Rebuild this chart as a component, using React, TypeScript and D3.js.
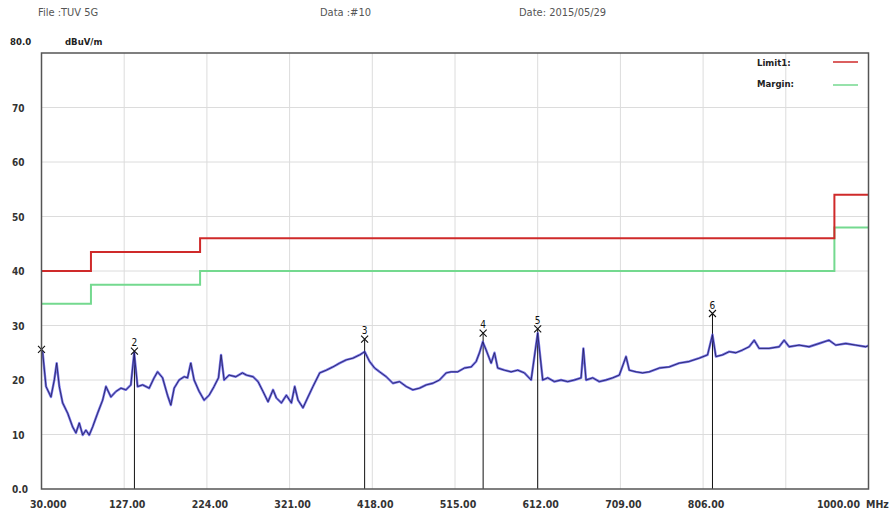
import React from 'react';
import * as d3 from 'd3';

// trace (MHz, dBuV/m)
const traceFreq = [30, 31.4, 35.3, 41.1, 45.0, 47.8, 50.9, 54.8, 60.7, 66.5, 70.4, 74.3, 78.3, 82.1, 86.0, 90.0, 95.8, 101.7, 105.6, 111.4, 117.3, 123.1, 129.0, 134.8, 138.7, 142.7, 148.6, 156.3, 162.1, 166.1, 172.0, 177.8, 181.7, 185.6, 191.4, 197.3, 201.3, 205.1, 209.0, 214.9, 220.7, 226.6, 232.4, 237.6, 240.6, 244.2, 250.0, 257.9, 265.7,
  270.4, 278.1, 284.0, 289.8, 295.7, 301.6, 305.5, 311.4, 317.2, 323.1, 327.0, 330.9, 336.7, 342.6, 348.4, 356.3, 364.1, 371.8, 379.7, 387.5, 395.3, 403.1, 409.0, 414.8, 420.7, 426.5, 434.4, 442.1, 450.0, 457.8, 465.6, 473.4, 481.3, 489.0, 496.8, 504.7,
  510.5, 518.3, 526.1, 534.0, 539.8, 543.7, 547.6, 551.5, 557.4, 561.3, 565.1, 573.0, 580.8, 588.6, 596.4, 604.3, 612.0, 617.9, 623.7, 631.6, 639.4, 647.2, 655.0, 662.9, 665.6, 668.7, 676.5, 684.3, 692.1, 699.9, 707.7, 715.6, 719.4, 727.3, 735.0, 742.8,
  754.6, 766.3, 778.0, 789.7, 801.4, 811.2, 817.0, 821.0, 828.7, 836.6, 844.4, 852.2, 860.0, 865.9, 871.7, 883.4, 895.2, 901.0, 906.9, 918.6, 930.3, 942.0, 953.7, 961.6, 973.3, 985.0, 996.8, 1000];
const traceLevel = [25.5, 25.0, 18.8, 16.9, 20.0, 23.1, 18.8, 15.8, 13.9, 11.4, 10.3, 12.1, 9.9, 10.8, 9.9, 11.4, 13.9, 16.3, 18.8, 16.9, 17.9, 18.5, 18.2, 19.1, 25.0, 18.8, 19.1, 18.5, 20.4, 21.5, 20.4, 17.2, 15.4, 18.5, 20.0, 20.6, 20.4, 23.1, 20.0, 17.9, 16.3, 17.2, 18.8, 20.4, 24.6, 20.0, 20.9, 20.6, 21.3,
  20.9, 20.6, 19.7, 17.9, 16.0, 18.2, 16.7, 15.8, 17.2, 15.8, 18.8, 16.3, 14.9, 16.9, 18.8, 21.3, 21.8, 22.4, 23.1, 23.7, 24.0, 24.6, 25.2, 23.4, 22.2, 21.5, 20.6, 19.4, 19.7, 18.8, 18.2, 18.5, 19.1, 19.4, 20.0, 21.3,
  21.5, 21.5, 22.2, 22.4, 23.4, 25.0, 27.0, 25.5, 23.1, 25.0, 22.2, 21.8, 21.5, 21.8, 21.3, 20.0, 28.6, 20.0, 20.4, 19.7, 20.0, 19.7, 20.0, 20.4, 25.8, 20.0, 20.4, 19.7, 20.0, 20.4, 20.9, 24.3, 21.8, 21.5, 21.3, 21.5,
  22.2, 22.4, 23.1, 23.4, 24.0, 24.6, 28.3, 24.3, 24.6, 25.2, 25.0, 25.5, 26.1, 27.3, 25.8, 25.8, 26.1, 27.3, 26.1, 26.4, 26.1, 26.7, 27.3, 26.4, 26.7, 26.4, 26.1, 26.3];

const limitFreq = [30, 88, 216, 960, 1000];
const limitLevel = [40, 43.5, 46, 54, 54];
const marginLevel = [34, 37.5, 40, 48, 48];

const markerNo = ['', '2', '3', '4', '5', '6'];
const markerFreq = [30, 139, 409, 548, 612, 817];
const markerLevel = [25.6, 25.3, 27.5, 28.6, 29.4, 32.2];

const xTicks = [30, 127, 224, 321, 418, 515, 612, 709, 806, 903, 1000];
const xTickLabels = ['30.000', '127.00', '224.00', '321.00', '418.00', '515.00', '612.00', '709.00', '806.00', '', '1000.00'];
const yTicks = [0, 10, 20, 30, 40, 50, 60, 70];
const yTickLabels = ['0.0', '10', '20', '30', '40', '50', '60', '70'];

const W = 892;
const H = 512;
const L = 41.5, R = 868.5, T = 53, B = 489;
const font = '"Liberation Sans", Arial, sans-serif';
const narrow = '"DejaVu Sans Condensed", "Liberation Sans Narrow", sans-serif';

const App: React.FC = () => {
  const x = d3.scaleLinear([30, 1000], [L, R]);
  const y = d3.scaleLinear([0, 80], [B, T]);

  const trace = d3.line<number>().x((_, i) => x(traceFreq[i])).y((d) => y(d));
  const step = d3.line<number>().x((_, i) => x(limitFreq[i])).y((d) => y(d)).curve(d3.curveStepAfter);

  return (
    <svg width={W} height={H} style={{ position: 'absolute', left: 0, top: 0, background: '#fff' }} fontFamily={font}>
      {/* header */}
      <g fill="#555" fontSize={11} fontFamily={narrow}>
        <text x={38} y={16}>File :TUV 5G</text>
        <text x={320} y={16}>Data :#10</text>
        <text x={519} y={16}>Date: 2015/05/29</text>
      </g>
      <g fill="#222" fontSize={9.5} fontWeight="bold" fontFamily={narrow}>
        <text x={10} y={45}>80.0</text>
        <text x={65} y={45}>dBuV/m</text>
      </g>

      {/* grid */}
      <g stroke="#dcdcdc" strokeWidth={1}>
        {xTicks.slice(1, -1).map((t) => (
          <line key={'gx' + t} x1={x(t)} x2={x(t)} y1={T} y2={B} />
        ))}
        {yTicks.slice(1).map((t) => (
          <line key={'gy' + t} x1={L} x2={R} y1={y(t)} y2={y(t)} />
        ))}
      </g>

      {/* limit / margin */}
      <path d={step(marginLevel) || ''} fill="none" stroke="#74d98f" strokeWidth={2} />
      <path d={step(limitLevel) || ''} fill="none" stroke="#cf2a2a" strokeWidth={2} />

      {/* marker lines */}
      <g stroke="#111" strokeWidth={1}>
        {markerFreq.map((f, i) => (
          <line key={'ml' + i} x1={x(f)} x2={x(f)} y1={y(markerLevel[i])} y2={B} />
        ))}
      </g>

      {/* trace */}
      <path d={trace(traceLevel) || ''} fill="none" stroke="#4a45e0" strokeWidth={2.4} strokeOpacity={0.75} strokeLinejoin="round" />
      <path d={trace(traceLevel) || ''} fill="none" stroke="#1d1a55" strokeWidth={0.8} strokeLinejoin="round" />

      {/* markers */}
      <g fontSize={10} fill="#111" textAnchor="middle" fontFamily={narrow}>
        {markerFreq.map((f, i) => {
          const cx = x(f);
          const cy = y(markerLevel[i]);
          return (
            <g key={'mk' + i}>
              <path d={`M${cx - 3.5},${cy - 3.5}L${cx + 3.5},${cy + 3.5}M${cx + 3.5},${cy - 3.5}L${cx - 3.5},${cy + 3.5}`} stroke="#111" strokeWidth={1.1} />
              <text x={cx} y={cy - 5}>{markerNo[i]}</text>
            </g>
          );
        })}
      </g>

      {/* frame */}
      <rect x={L} y={T} width={R - L} height={B - T} fill="none" stroke="#555" strokeWidth={1.5} />

      {/* legend */}
      <g fontSize={9.5} fontWeight="bold" fill="#222" fontFamily={narrow}>
        <text x={757} y={66}>Limit1:</text>
        <text x={757} y={87}>Margin:</text>
      </g>
      <line x1={833} x2={858} y1={62} y2={62} stroke="#cf2a2a" strokeWidth={1.5} />
      <line x1={833} x2={858} y1={85} y2={85} stroke="#74d98f" strokeWidth={1.5} />

      {/* y labels */}
      <g fontSize={10} fontWeight="bold" fill="#333" fontFamily={narrow}>
        {yTicks.map((t, i) => (
          <text key={'yl' + t} x={12} y={y(t) + 4}>{yTickLabels[i]}</text>
        ))}
      </g>

      {/* x labels */}
      <g fontSize={10.5} fontWeight="bold" fill="#333" fontFamily={narrow}>
        {xTicks.map((t, i) => {
          if (!xTickLabels[i]) return null;
          let anchor: 'start' | 'middle' | 'end' = 'middle';
          let px = x(t) + 3;
          if (i === 0) { anchor = 'start'; px = 30; }
          if (i === xTicks.length - 1) { anchor = 'end'; px = 860; }
          return (
            <text key={'xl' + t} x={px} y={508} textAnchor={anchor}>{xTickLabels[i]}</text>
          );
        })}
        <text x={866} y={508}>MHz</text>
      </g>
    </svg>
  );
};

export default App;
